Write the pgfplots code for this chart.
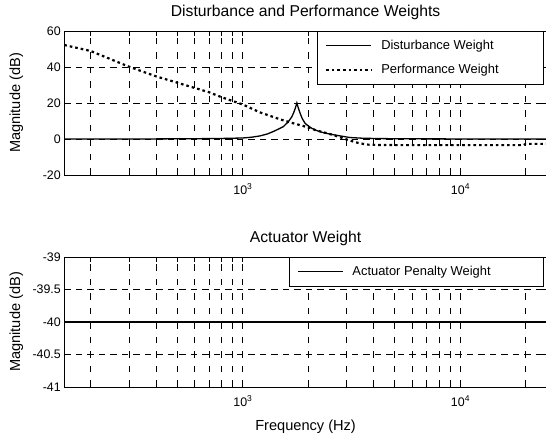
\documentclass[border=0pt]{standalone}
\usepackage{fontspec}
\setmainfont{Liberation Sans}
\setsansfont{Liberation Sans}
\usepackage{pgfplots}
\pgfplotsset{compat=1.18}

\newcommand\tickfont{\fontsize{12.4bp}{14bp}\selectfont}
\newcommand\labfont{\fontsize{14.6bp}{17bp}\selectfont}
\newcommand\legfont{\fontsize{12.9bp}{15bp}\selectfont}
\newcommand\expo[1]{\raisebox{5bp}{\fontsize{8.5bp}{9bp}\selectfont #1}}

% shared look of both panels
\pgfplotsset{
  legend image code/.code={\draw[#1] (0bp,0bp) -- (45bp,0bp);},
  scale only axis, width=482.5bp,
  xmin=151.5, xmax=25000,
  xtick={1000,10000}, xticklabels={10\expo{3},10\expo{4}},
  minor xtick={200,300,400,500,600,700,800,900,2000,3000,4000,5000,6000,7000,8000,9000,20000},
  xmajorgrids=true, xminorgrids=true, ymajorgrids=true,
  grid style={black, line width=0.5bp},
  major x grid style={dash pattern=on 6.5bp off 8bp},
  minor x grid style={dash pattern=on 6.5bp off 8bp},
  major y grid style={dash pattern=on 6.5bp off 5bp},
  tick style={black, line width=0.6bp},
  major tick length=5bp, minor tick length=5bp,
  xtick pos=both, ytick pos=both,
  axis line style={line width=0.9bp},
  tick label style={font=\tickfont},
  xticklabel style={anchor=base, yshift=-20bp},
  title style={font=\fontsize{15.7bp}{18bp}\selectfont, at={(axis description cs:0.5,1)}, anchor=base, yshift=8.5bp},
  ylabel style={font=\labfont, at={(axis description cs:-0.0918,0.5)}, anchor=base},
  xlabel style={font=\labfont, at={(axis description cs:0.5,0)}, anchor=base, yshift=-44bp},
  legend cell align=left,
  legend style={at={(axis description cs:1,1)}, anchor=north east, xshift=-2.8bp,
    draw=black, line width=0.8bp, fill=white, font=\legfont,
    inner xsep=8bp, inner ysep=7bp, row sep=9bp, column sep=7bp},
}

\begin{document}
\begin{tikzpicture}[x=1bp,y=1bp]

% top: disturbance and performance weights
\begin{semilogxaxis}[at={(64.3bp,259bp)}, anchor=south west, height=144bp,
    ymin=-20, ymax=60, ytick={-20,0,20,40,60}, yticklabels={-20,0,20,40,60},
    title={Disturbance and Performance Weights}, ylabel={Magnitude (dB)}]
\addplot[black, line width=1.3bp] coordinates {
  (151.5,0) (400,0.05) (600,0.15) (800,0.3) (1000,0.55) (1100,1.0) (1200,1.7)
  (1300,2.8) (1386,4.2) (1460,5.5) (1540,6.9) (1620,9.5) (1680,12.2) (1712,14.3)
  (1745,17) (1775,20) (1805,17) (1838,14.3) (1880,11.3) (1937,8.7) (2000,7.3)
  (2081,5.9) (2200,4.6) (2352,3.5) (2550,2.6) (2810,1.7) (3119,0.8) (3600,0.4)
  (4500,0.2) (6000,0.1) (10000,0.03) (25000,0)};
\addlegendentry{Disturbance Weight}
\addplot[black, line width=2.2bp, dash pattern=on 2.6bp off 3bp] coordinates {
  (151.5,52.2) (200,48.9) (300,40.2) (400,34.8) (500,31.3) (600,28.4) (700,26.0)
  (800,23.2) (900,21.1) (1000,19.2) (1200,14.8) (1487,10.9) (1712,8.7) (1903,7.2)
  (2050,6.0) (2154,5.0) (2438,3.2) (2612,2.2) (2800,1.0) (3000,-0.2) (3120,-0.9)
  (3400,-2.2) (3722,-3.1) (4100,-3.3) (5000,-3.4) (10000,-3.4) (19500,-3.4)
  (20000,-2.7) (25000,-2.7)};
\addlegendentry{Performance Weight\hspace*{35bp}}
\end{semilogxaxis}

% bottom: actuator weight
\begin{semilogxaxis}[at={(64.3bp,47bp)}, anchor=south west, height=130bp,
    ymin=-41, ymax=-39, ytick={-41,-40.5,-40,-39.5,-39},
    yticklabels={-41,-40.5,-40,-39.5,-39},
    title={Actuator Weight}, ylabel={Magnitude (dB)}, xlabel={Frequency (Hz)}]
\addplot[black, line width=1.3bp] coordinates {(151.5,-40) (1000,-40) (10000,-40) (25000,-40)};
\addlegendentry{Actuator Penalty Weight\hspace*{43bp}}
\end{semilogxaxis}

\pgfresetboundingbox
\path[use as bounding box] (0,0) rectangle (546,434);
\end{tikzpicture}
\end{document}
